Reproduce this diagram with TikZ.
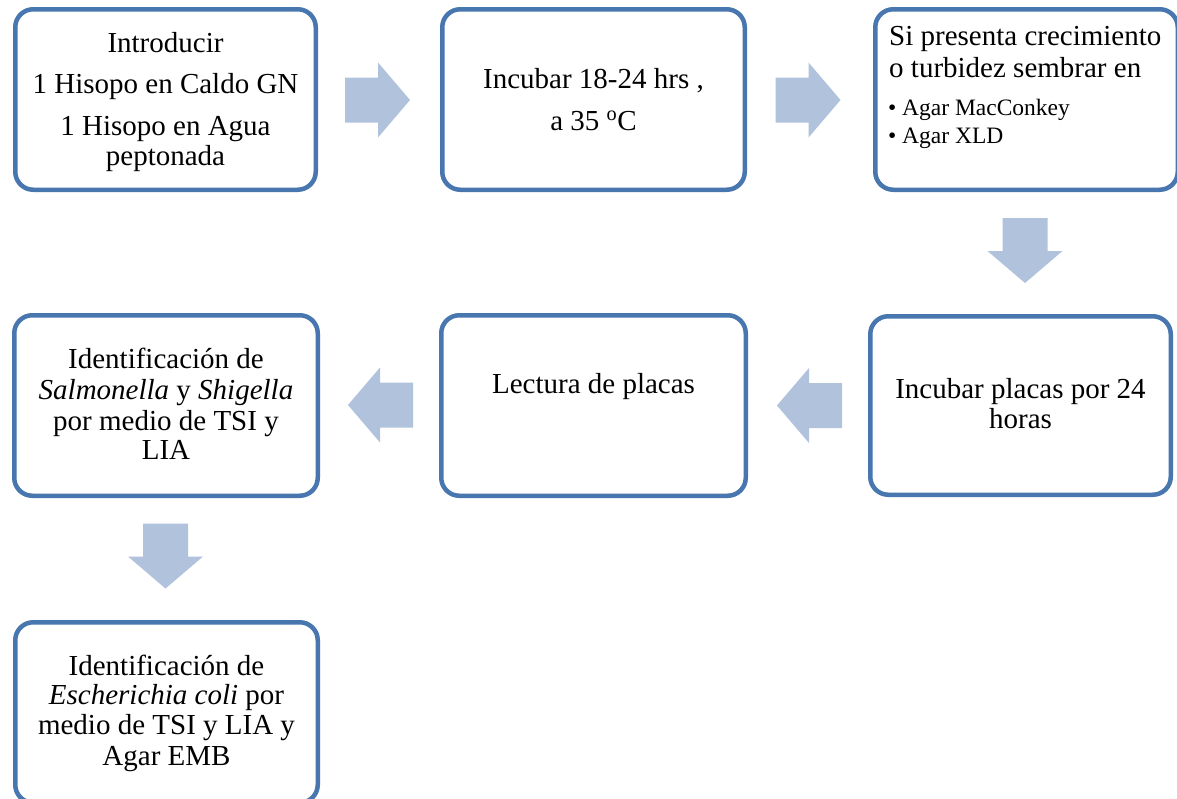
\documentclass[tikz,border=0pt]{standalone}
\usepackage{fontspec}
\setmainfont{Liberation Serif}
\definecolor{boxline}{RGB}{72,118,175}
\definecolor{arrowfill}{RGB}{177,194,221}
\tikzset{
  stepbox/.style={draw=boxline, line width=4.5pt, rounded corners=18pt, fill=white, inner sep=0pt, outer sep=0pt},
  txt/.style={inner sep=0pt, anchor=base, font=\fontsize{29}{33}\selectfont},
  txtl/.style={txt, anchor=base west},
  bul/.style={inner sep=0pt, anchor=base west, font=\fontsize{23.5}{27}\selectfont},
  blockarrow/.pic={\fill[arrowfill] (-32.5,-22.5) -- (0.5,-22.5) -- (0.5,-37.5) -- (32.5,0) -- (0.5,37.5) -- (0.5,22.5) -- (-32.5,22.5) -- cycle;}
}
\begin{document}
\begin{tikzpicture}[x=1pt,y=-1pt]
\path[use as bounding box, clip] (0,0) rectangle (1177,798);
\fill[white] (0,0) rectangle (1177,798);
% boxes
\node[stepbox, minimum width=300.5pt, minimum height=180.5pt] (b1) at (165.5,99.5) {};
\node[stepbox, minimum width=302.5pt, minimum height=180.5pt] (b2) at (593.5,99.5) {};
\node[stepbox, minimum width=302.5pt, minimum height=180.5pt] (b3) at (1026.5,99.5) {};
\node[stepbox, minimum width=300.5pt, minimum height=178.5pt] (b4) at (1020.5,405.5) {};
\node[stepbox, minimum width=304.5pt, minimum height=180.5pt] (b5) at (593.5,405.5) {};
\node[stepbox, minimum width=303.5pt, minimum height=180.5pt] (b6) at (166,405.5) {};
\node[stepbox, minimum width=302.5pt, minimum height=180.5pt] (b7) at (166.5,712.5) {};
% arrows
\pic (a1) at (377.5,100) {blockarrow};
\pic (a2) at (808,100) {blockarrow};
\pic[rotate=-90] (a3) at (1025,250.5) {blockarrow};
\pic[rotate=180] (a4) at (809.5,405.5) {blockarrow};
\pic[rotate=180] (a5) at (380.5,405) {blockarrow};
\pic[rotate=-90] (a6) at (165.5,556) {blockarrow};
% box 1 text
\node[txt] (t11) at (165.5,52) {Introducir};
\node[txt] (t12) at (165.5,93) {1 Hisopo en Caldo GN};
\node[txt] (t13) at (165.5,135) {1 Hisopo en Agua};
\node[txt] (t14) at (165.5,165) {peptonada};
% box 2 text
\node[txt] (t21) at (593.5,88) {Incubar 18-24 hrs ,};
\node[txt] (t22) at (593.5,130) {a 35 \textsuperscript{o}C};
% box 3 text
\node[txtl] (t31) at (889,45) {Si presenta crecimiento};
\node[txtl] (t32) at (889,77) {o turbidez sembrar en};
\node[bul] (t33b) at (888,115) {•};
\node[bul] (t33) at (902,115) {Agar MacConkey};
\node[bul] (t34b) at (888,143) {•};
\node[bul] (t34) at (902,143) {Agar XLD};
% box 4 text
\node[txt] (t41) at (1020.5,398) {Incubar placas por 24};
\node[txt] (t42) at (1020.5,428) {horas};
% box 5 text
\node[txt] (t51) at (593.5,393) {Lectura de placas};
% box 6 text
\node[txt] (t61) at (166,368) {Identificación de};
\node[txt] (t62) at (166,399) {\textit{Salmonella} y \textit{Shigella}};
\node[txt] (t63) at (166,430) {por medio de TSI y};
\node[txt] (t64) at (166,459) {LIA};
% box 7 text
\node[txt] (t71) at (166.5,675) {Identificación de};
\node[txt] (t72) at (166.5,704) {\textit{Escherichia coli} por};
\node[txt] (t73) at (166.5,734) {medio de TSI y LIA y};
\node[txt] (t74) at (166.5,765) {Agar EMB};
\end{tikzpicture}
\end{document}
